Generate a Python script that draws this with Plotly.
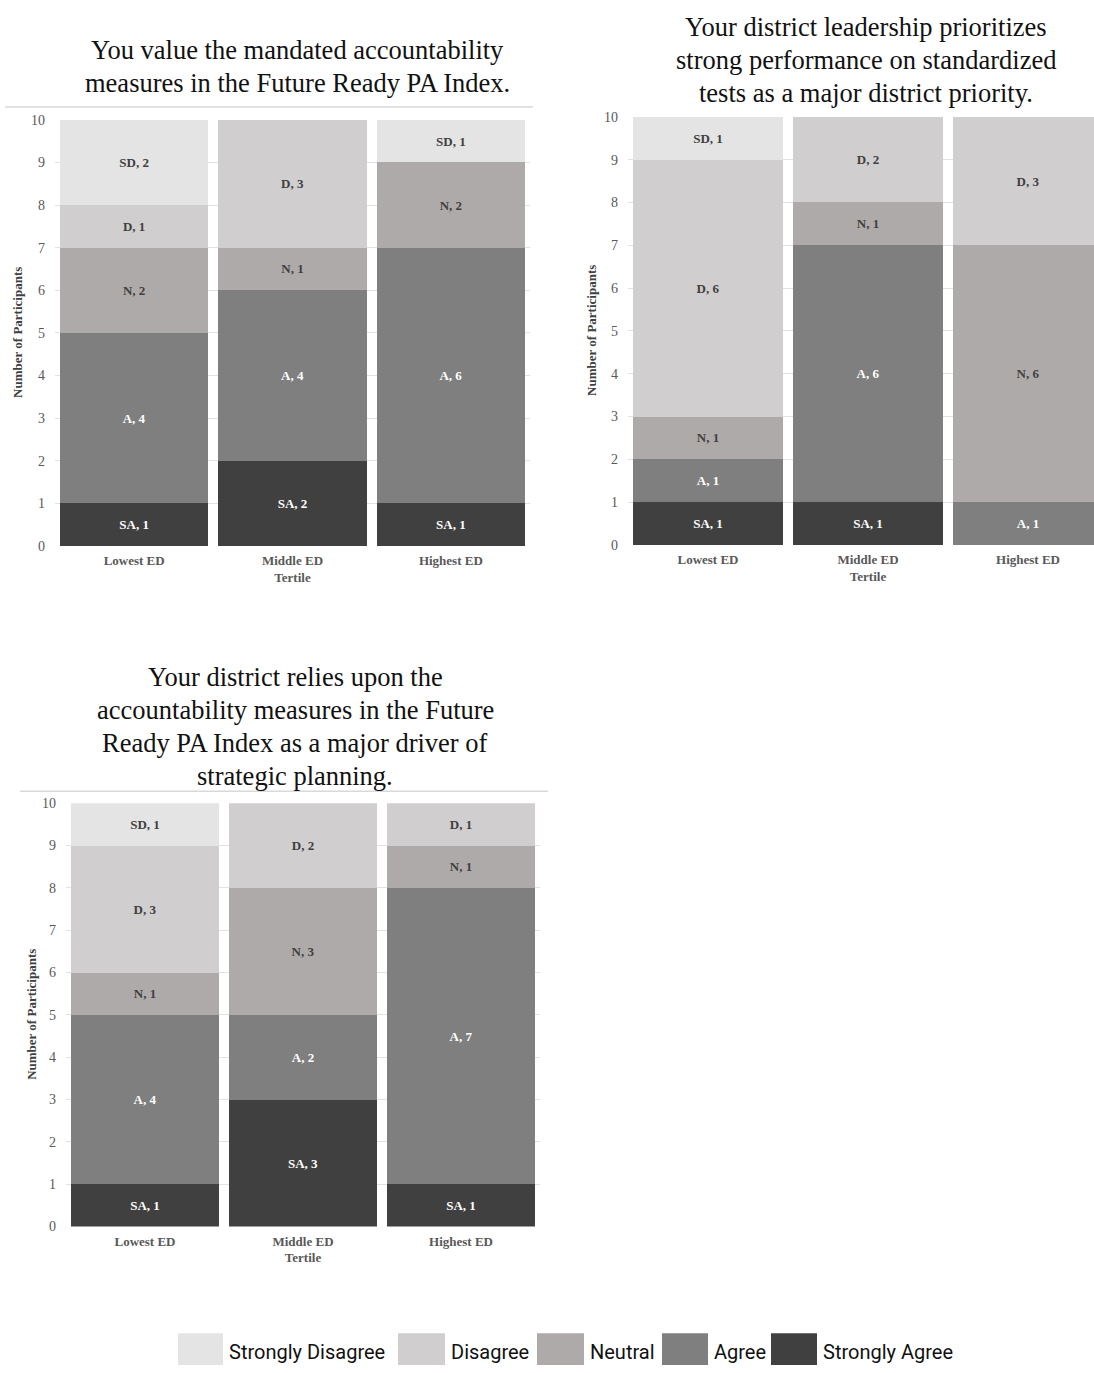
import plotly.graph_objects as go

# ---- data -------------------------------------------------------------
tertiles = ["Lowest ED", "Middle ED<br>Tertile", "Highest ED"]
levels = ["SD", "D", "N", "A", "SA"]
level_names = ["Strongly Disagree", "Disagree", "Neutral", "Agree", "Strongly Agree"]
level_colors = ["#e4e4e4", "#d0cecf", "#aeaaa9", "#7f7f7f", "#404040"]
label_colors = ["#404040", "#404040", "#404040", "#ffffff", "#ffffff"]
y_ticks = list(range(0, 11))

title_1 = ["You value the mandated accountability",
           "measures in the Future Ready PA Index."]
sd_1 = [2, 0, 1]
d_1 = [1, 3, 0]
n_1 = [2, 1, 2]
a_1 = [4, 4, 6]
sa_1 = [1, 2, 1]

title_2 = ["Your district leadership prioritizes",
           "strong performance on standardized",
           "tests as a major district priority."]
sd_2 = [1, 0, 0]
d_2 = [6, 2, 3]
n_2 = [1, 1, 6]
a_2 = [1, 6, 1]
sa_2 = [1, 1, 0]

title_3 = ["Your district relies upon the",
           "accountability measures in the Future",
           "Ready PA Index as a major driver of",
           "strategic planning."]
sd_3 = [1, 0, 0]
d_3 = [3, 2, 1]
n_3 = [1, 3, 1]
a_3 = [4, 2, 7]
sa_3 = [1, 3, 1]

W, H = 1094, 1373
SERIF = "Liberation Serif, Times New Roman, serif"


def px_x(v):
    return v / W


def px_y(v):
    return 1 - v / H


# panel geometry in pixels: plot-area left/right, y of value 10 and value 0,
# category range max, title centre x and first-line y, y-title x, top rule
panels = [
    dict(title=title_1, data=[sd_1, d_1, n_1, a_1, sa_1], left=55, right=530,
         top=114, bottom=545, rmax=2.5, tx=297, ty0=43, ytx=18, rule=(5, 533, 101)),
    dict(title=title_2, data=[sd_2, d_2, n_2, a_2, sa_2], left=628, right=1094,
         top=111, bottom=544, rmax=2.4125, tx=866, ty0=20, ytx=592, rule=None),
    dict(title=title_3, data=[sd_3, d_3, n_3, a_3, sa_3], left=66, right=540,
         top=805, bottom=1233, rmax=2.5, tx=295, ty0=677, ytx=32, rule=(20, 548, 793)),
]
TITLE_LINE_GAP = 33.5

fig = go.Figure()
annotations = []
shapes = []
layout_axes = {}

for i, p in enumerate(panels, start=1):
    xa = "x" if i == 1 else f"x{i}"
    ya = "y" if i == 1 else f"y{i}"
    # stack from bottom (SA) to top (SD)
    for k in reversed(range(len(levels))):
        vals = p["data"][k]
        fig.add_trace(go.Bar(
            x=[0, 1, 2], y=vals, xaxis=xa, yaxis=ya,
            marker=dict(color=level_colors[k], line=dict(width=0)),
            text=[f"<b>{levels[k]}, {v}</b>" if v > 0 else "" for v in vals],
            textposition="inside", insidetextanchor="middle", textangle=0,
            textfont=dict(family=SERIF, size=13, color=label_colors[k]),
            name=level_names[k], showlegend=False, hoverinfo="skip",
        ))
    xkey = "xaxis" if i == 1 else f"xaxis{i}"
    ykey = "yaxis" if i == 1 else f"yaxis{i}"
    layout_axes[xkey] = dict(
        domain=[px_x(p["left"]), px_x(p["right"])], anchor=ya,
        range=[-0.5, p["rmax"]], tickmode="array", tickvals=[0, 1, 2],
        ticktext=[f"<b>{t}</b>" for t in tertiles],
        tickfont=dict(family=SERIF, size=13, color="#595959"),
        showgrid=False, zeroline=False, showline=False, ticks="",
        ticklabelstandoff=5, fixedrange=True,
    )
    layout_axes[ykey] = dict(
        domain=[px_y(p["bottom"]), px_y(p["top"])], anchor=xa,
        range=[0, 10], tickmode="array", tickvals=y_ticks,
        tickfont=dict(family=SERIF, size=14, color="#595959"),
        showgrid=True, gridcolor="#e2e2e2", gridwidth=1,
        zeroline=False, showline=False, ticks="", ticklabelstandoff=9,
        fixedrange=True,
    )
    for j, line in enumerate(p["title"]):
        annotations.append(dict(
            text=line, x=px_x(p["tx"]), y=px_y(p["ty0"] + j * TITLE_LINE_GAP),
            xref="paper", yref="paper", xanchor="center", yanchor="middle",
            showarrow=False, font=dict(family=SERIF, size=26.5, color="#111111"),
        ))
    annotations.append(dict(
        text="<b>Number of Participants</b>", textangle=-90,
        x=px_x(p["ytx"]), y=px_y((p["top"] + p["bottom"]) / 2),
        xref="paper", yref="paper", xanchor="center", yanchor="middle",
        showarrow=False, font=dict(family=SERIF, size=13, color="#404040"),
    ))
    if p["rule"]:
        x0, x1, yy = p["rule"]
        shapes.append(dict(type="line", xref="paper", yref="paper",
                           x0=px_x(x0), x1=px_x(x1), y0=px_y(yy), y1=px_y(yy),
                           line=dict(color="#d9d9d9", width=1.5)))

# legend drawn as swatches with labels along the bottom
legend_swatches = [(178, 223), (398, 445), (537, 584), (662, 708), (771, 817)]
for k, (s0, s1) in enumerate(legend_swatches):
    shapes.append(dict(type="rect", xref="paper", yref="paper",
                       x0=px_x(s0), x1=px_x(s1), y0=px_y(1373), y1=px_y(1341),
                       fillcolor=level_colors[k], line=dict(width=0)))
    annotations.append(dict(
        text=level_names[k], x=px_x(s1 + 4), y=px_y(1360),
        xref="paper", yref="paper", xanchor="left", yanchor="middle",
        showarrow=False,
        font=dict(family="Liberation Sans Narrow, Roboto, sans-serif", size=20,
                  color="#111111"),
    ))

fig.update_layout(
    width=W, height=H, margin=dict(l=0, r=0, t=0, b=0),
    paper_bgcolor="white", plot_bgcolor="white",
    barmode="stack", bargap=0.065,
    annotations=annotations, shapes=shapes,
    **layout_axes,
)

fig.write_html("out.html", config={"displayModeBar": False})
